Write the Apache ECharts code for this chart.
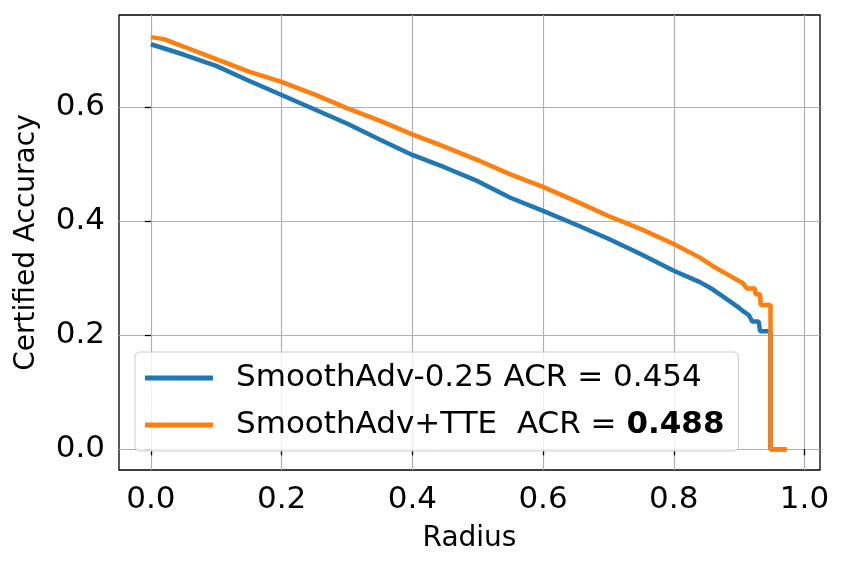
<!DOCTYPE html>
<html>
<head>
<meta charset="utf-8">
<title>Certified Accuracy</title>
<script src="https://cdn.jsdelivr.net/npm/echarts@6/dist/echarts.min.js"></script>
<style>
    html, body { margin: 0; padding: 0; background: #fff; }
    #main { width: 844px; height: 569px; }
</style>
</head>
<body>
<div id="main"></div>
<script>
// radius / accuracy
var blueName = 'SmoothAdv-0.25 ACR = 0.454';
var orangeName = 'SmoothAdv+TTE  ACR = 0.488';

var blueR = [0, 0.05, 0.1, 0.15, 0.2, 0.25, 0.3, 0.35, 0.4, 0.45, 0.5, 0.55, 0.6, 0.65, 0.7, 0.75, 0.8, 0.84, 0.86, 0.88, 0.9, 0.905, 0.915, 0.92, 0.93, 0.932, 0.948, 0.948, 0.972];
var blueAcc = [0.710, 0.692, 0.672, 0.646, 0.621, 0.596, 0.571, 0.543, 0.516, 0.494, 0.470, 0.441, 0.418, 0.394, 0.369, 0.342, 0.313, 0.293, 0.280, 0.264, 0.248, 0.243, 0.235, 0.224, 0.224, 0.207, 0.207, 0, 0];

var orangeR = [0, 0.02, 0.05, 0.1, 0.15, 0.2, 0.25, 0.3, 0.35, 0.4, 0.45, 0.5, 0.55, 0.6, 0.65, 0.7, 0.75, 0.8, 0.84, 0.86, 0.88, 0.9, 0.905, 0.912, 0.924, 0.925, 0.932, 0.933, 0.948, 0.948, 0.973];
var orangeAcc = [0.7225, 0.719, 0.706, 0.684, 0.662, 0.644, 0.622, 0.598, 0.576, 0.552, 0.530, 0.507, 0.482, 0.460, 0.435, 0.409, 0.386, 0.360, 0.336, 0.321, 0.308, 0.295, 0.292, 0.282, 0.282, 0.272, 0.272, 0.253, 0.253, 0, 0];

var xTicks = [0, 0.2, 0.4, 0.6, 0.8, 1.0];
var yTicks = [0, 0.2, 0.4, 0.6];

function pairs(xs, ys) {
    var out = [];
    for (var i = 0; i < xs.length; i++) {
        out.push([xs[i], ys[i]]);
    }
    return out;
}

var font = 'DejaVu Sans';
var myChart = echarts.init(document.getElementById('main'));

var option = {
    animation: false,
    backgroundColor: '#fff',
    grid: {
        left: 119, right: 24, top: 15, bottom: 99,
        show: true, borderColor: '#000', borderWidth: 1.3, backgroundColor: 'transparent'
    },
    legend: {
        orient: 'vertical',
        left: 135, top: 352,
        padding: [8, 14, 8, 10],
        icon: 'rect',
        itemWidth: 68,
        itemHeight: 5,
        itemGap: 11,
        backgroundColor: 'rgba(255,255,255,0.8)',
        borderColor: '#cccccc',
        borderWidth: 1,
        borderRadius: 5,
        data: [blueName, orangeName],
        formatter: function (name) {
            if (name === orangeName) {
                return '{n|SmoothAdv+TTE  ACR = }{b|0.488}';
            }
            return name;
        },
        textStyle: {
            fontFamily: font, fontSize: 31, color: '#000', lineHeight: 36,
            padding: [0, 0, 0, 18],
            rich: {
                n: { fontFamily: font, fontSize: 31, color: '#000', lineHeight: 36 },
                b: { fontFamily: font, fontSize: 31, color: '#000', fontWeight: 'bold', lineHeight: 36 }
            }
        }
    },
    xAxis: {
        type: 'value',
        min: -0.04875, max: 1.02375,
        name: 'Radius',
        nameLocation: 'middle',
        nameGap: 55,
        nameTextStyle: { fontFamily: font, fontSize: 28, color: '#000' },
        axisLine: { show: false },
        axisTick: { show: true, length: 6, lineStyle: { color: '#000', width: 1.3 }, customValues: xTicks },
        axisLabel: {
            fontFamily: font, fontSize: 31, color: '#000', margin: 14,
            customValues: xTicks,
            formatter: function (v) { return v.toFixed(1); }
        },
        splitLine: { show: true, lineStyle: { color: '#b0b0b0', width: 1.2 } }
    },
    yAxis: {
        type: 'value',
        min: -0.03625, max: 0.76125,
        name: 'Certified Accuracy',
        nameLocation: 'middle',
        nameGap: 78,
        nameTextStyle: { fontFamily: font, fontSize: 28, color: '#000' },
        axisLine: { show: false },
        axisTick: { show: true, length: 6, lineStyle: { color: '#000', width: 1.3 }, customValues: yTicks },
        axisLabel: {
            fontFamily: font, fontSize: 31, color: '#000', margin: 14,
            customValues: yTicks,
            formatter: function (v) { return v.toFixed(1); }
        },
        splitLine: { show: true, lineStyle: { color: '#b0b0b0', width: 1.2 } }
    },
    series: [{
        name: blueName,
        type: 'line',
        symbol: 'none',
        color: '#1f77b4',
        lineStyle: { width: 4.5, color: '#1f77b4' },
        data: pairs(blueR, blueAcc)
    }, {
        name: orangeName,
        type: 'line',
        symbol: 'none',
        color: '#ff7f0e',
        lineStyle: { width: 4.5, color: '#ff7f0e' },
        data: pairs(orangeR, orangeAcc)
    }]
};

myChart.setOption(option);
</script>
</body>
</html>
